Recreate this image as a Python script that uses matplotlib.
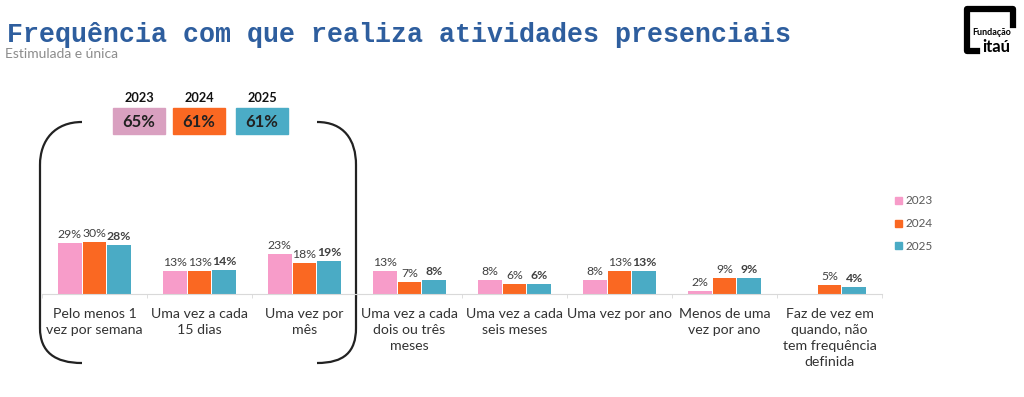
import matplotlib.pyplot as plt
import numpy as np
from matplotlib.path import Path
from matplotlib.patches import PathPatch, Rectangle

categories = ["Pelo menos 1\nvez por semana", "Uma vez a cada\n15 dias", "Uma vez por\nmês",
              "Uma vez a cada\ndois ou três\nmeses", "Uma vez a cada\nseis meses", "Uma vez por ano",
              "Menos de uma\nvez por ano", "Faz de vez em\nquando, não\ntem frequência\ndefinida"]
years = ["2023", "2024", "2025"]
v2023 = [29, 13, 23, 13, 8, 8, 2, np.nan]
v2024 = [30, 13, 18, 7, 6, 13, 9, 5]
v2025 = [28, 14, 19, 8, 6, 13, 9, 4]
totals = ["65%", "61%", "61%"]

colors = ["#F79CC9", "#FA6822", "#4AABC5"]
box_colors = ["#D9A0C0", "#FA6822", "#4BACC6"]

plt.rcParams['font.family'] = ['Lato', 'DejaVu Sans']

fig = plt.figure(figsize=(10.24, 3.97), dpi=100)

# overlay in pixel coordinates for decorations
ov = fig.add_axes([0, 0, 1, 1])
ov.set_xlim(0, 1024)
ov.set_ylim(397, 0)
ov.axis('off')

# main chart
ax = fig.add_axes([42 / 1024, 103 / 397, 840 / 1024, 140 / 397])
x = np.arange(len(categories))
w = 0.225
series = [v2023, v2024, v2025]
for i, (vals, c) in enumerate(zip(series, colors)):
    xs = x + (i - 1) * (w + 0.01)
    ax.bar(xs, vals, width=w, color=c, zorder=2)
    for xi, v in zip(xs, vals):
        if np.isnan(v):
            continue
        ax.text(xi, v + 1.6, f"{v:.0f}%", ha='center', va='bottom', fontsize=8.8,
                color='#404040', fontweight='bold' if i == 2 else 'normal')

ax.set_xlim(-0.5, len(categories) - 0.5)
ax.set_ylim(0, 80)
ax.set_xticks(x)
ax.set_xticklabels(categories, fontsize=10.2, color='#333333', linespacing=1.4, va='top')
ax.tick_params(axis='x', length=0, pad=10)
ax.set_xticks(np.arange(len(categories) + 1) - 0.5, minor=True)
ax.tick_params(axis='x', which='minor', length=3, color='#D9D9D9')
ax.set_yticks([])
for s in ['top', 'left', 'right']:
    ax.spines[s].set_visible(False)
ax.spines['bottom'].set_color('#D9D9D9')
ax.patch.set_alpha(0)

# legend
for i, (yr, c) in enumerate(zip(years, colors)):
    yy = 201 + i * 22.5
    ov.add_patch(Rectangle((895, yy - 4), 7, 7, color=c))
    ov.text(906, yy, yr, fontsize=8.5, color='#595959', va='center')

# totals boxes
box_x = [113, 173, 236]
for bx, yr, t, c in zip(box_x, years, totals, box_colors):
    ov.add_patch(Rectangle((bx, 108), 52, 26, color=c))
    ov.text(bx + 26, 98, yr, ha='center', va='center', fontsize=9.2, fontweight='bold', color='#111111')
    ov.text(bx + 26, 122, t, ha='center', va='center', fontsize=12, fontweight='bold', color='#222222')

# brackets
left = Path([(82, 122), (55, 122), (40, 140), (40, 165), (40, 328), (40, 352), (55, 363), (82, 363)],
            [Path.MOVETO, Path.CURVE4, Path.CURVE4, Path.CURVE4, Path.LINETO, Path.CURVE4, Path.CURVE4, Path.CURVE4])
right = Path([(317, 122), (344, 122), (356, 140), (356, 165), (356, 328), (356, 352), (344, 363), (317, 363)],
             [Path.MOVETO, Path.CURVE4, Path.CURVE4, Path.CURVE4, Path.LINETO, Path.CURVE4, Path.CURVE4, Path.CURVE4])
for p in (left, right):
    ov.add_patch(PathPatch(p, fill=False, lw=1.6, color='#222222'))

# title
ov.text(7, 42, "Frequência com que realiza atividades presenciais", fontsize=19.2,
        family=['Liberation Mono', 'DejaVu Sans Mono'], fontweight='bold', color='#2E5E9E', va='baseline')
ov.text(5, 58, "Estimulada e única", fontsize=10, color='#8C8C8C', va='baseline')

# logo
ov.plot([986, 967, 967, 977], [9, 9, 51, 51], color='black', lw=4.5, solid_joinstyle='round')
ov.plot([992, 1013, 1013], [9, 9, 25], color='black', lw=4.5, solid_joinstyle='round')
ov.text(972, 35, "Fundação", fontsize=6.5, fontweight='bold', color='black', va='baseline')
ov.text(982, 52, "itaú", fontsize=12, fontweight='bold', color='black', va='baseline')

fig.savefig('out.png', dpi=100)
